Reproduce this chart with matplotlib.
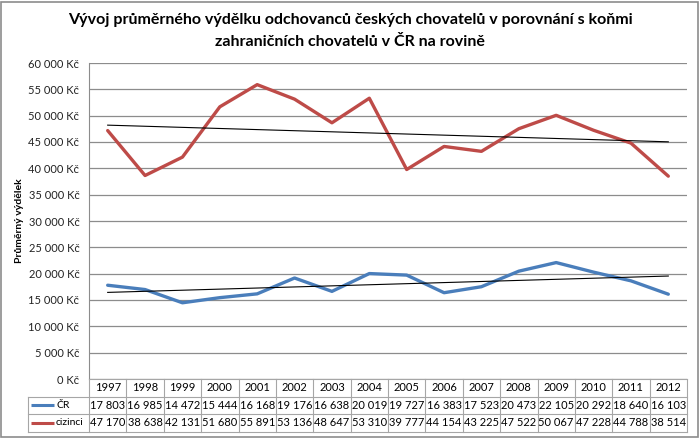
import matplotlib.pyplot as plt
import numpy as np
from matplotlib.patches import Rectangle

plt.rcParams['font.family'] = ['Lato', 'DejaVu Sans']

roky = ['1997', '1998', '1999', '2000', '2001', '2002', '2003', '2004',
        '2005', '2006', '2007', '2008', '2009', '2010', '2011', '2012']
cr = [17803, 16985, 14472, 15444, 16168, 19176, 16638, 20019,
      19727, 16383, 17523, 20473, 22105, 20292, 18640, 16103]
cizinci = [47170, 38638, 42131, 51680, 55891, 53136, 48647, 53310,
           39777, 44154, 43225, 47522, 50067, 47228, 44788, 38514]

W, H = 700, 440
fig = plt.figure(figsize=(7, 4.4), dpi=100)

# cisla s mezerou jako oddelovacem tisicu
fmt = lambda v: '{:,}'.format(int(v)).replace(',', ' ')

# ramecek kolem celeho grafu
fig.patches.append(Rectangle((1 / W, 3 / H), 697 / W, 435 / H, transform=fig.transFigure,
                             fill=False, edgecolor='#8c8c8c', linewidth=1.2))

x0, x1, ytop, y0 = 89, 687, 63, 379
ax = fig.add_axes([x0 / W, 1 - y0 / H, (x1 - x0) / W, (y0 - ytop) / H])
x = np.arange(len(roky))

ax.plot(x, cr, color='#4a7ebb', linewidth=2.4, solid_capstyle='round')
ax.plot(x, cizinci, color='#be4b48', linewidth=2.4, solid_capstyle='round')

# linearni trendy
for data in (cr, cizinci):
    k, q = np.polyfit(x, data, 1)
    ax.plot(x, k * x + q, color='black', linewidth=0.8)

ax.set_xlim(-0.5, len(roky) - 0.5)
ax.set_ylim(0, 60000)
ticks = np.arange(0, 60001, 5000)
ax.set_yticks(ticks)
ax.set_yticklabels([fmt(v) + ' Kč' for v in ticks], fontsize=8, color='#222222')
ax.yaxis.grid(True, color='#8c8c8c', linewidth=0.9)
ax.set_axisbelow(True)
ax.set_xticks([])
ax.tick_params(axis='y', length=0, pad=7)
for s in ['top', 'right', 'bottom']:
    ax.spines[s].set_visible(False)
ax.spines['left'].set_color('#8c8c8c')
ax.set_ylabel('Průměrný výdělek', fontsize=7.5, fontweight='bold')
ax.yaxis.set_label_coords(-0.118 + 6 / (x1 - x0), 0.5)

# tabulka dat pod grafem
row_h = 17.5
tab = fig.add_axes([x0 / W, 1 - (y0 + 3 * row_h) / H, (x1 - x0) / W, 3 * row_h / H])
tab.set_xlim(-0.5, len(roky) - 0.5)
tab.set_ylim(3, 0)
tab.axis('off')
lc = '#a6a6a6'
unit = (x1 - x0) / len(roky)
left = -0.5 - (x0 - 28) / unit
for r in range(4):
    xs = -0.5 if r == 0 else left
    tab.plot([xs, len(roky) - 0.5], [r, r], color=lc, linewidth=0.8, clip_on=False)
tab.plot([left, left], [1, 3], color=lc, linewidth=0.8, clip_on=False)
for c in range(len(roky) + 1):
    tab.plot([c - 0.5, c - 0.5], [0, 3], color=lc, linewidth=0.8, clip_on=False)

for i, rok in enumerate(roky):
    tab.text(i, 0.5, rok, ha='center', va='center', fontsize=8)
    tab.text(i, 1.5, fmt(cr[i]), ha='center', va='center', fontsize=8)
    tab.text(i, 2.5, fmt(cizinci[i]), ha='center', va='center', fontsize=8)

for r, (nazev, barva) in enumerate([('ČR', '#4a7ebb'), ('cizinci', '#be4b48')]):
    tab.plot([left + 3 / unit, left + 26 / unit], [r + 1.5, r + 1.5], color=barva,
             linewidth=2.2, clip_on=False, solid_capstyle='butt')
    tab.text(left + 28 / unit, r + 1.5, nazev, ha='left', va='center', fontsize=7.5)

fig.text(0.5, 1 - 20 / H, 'Vývoj průměrného výdělku odchovanců českých chovatelů v porovnání s koňmi',
         ha='center', va='center', fontsize=11.5, fontweight='bold')
fig.text(0.5, 1 - 42 / H, 'zahraničních chovatelů v ČR na rovině',
         ha='center', va='center', fontsize=11.5, fontweight='bold')

fig.savefig('out.png', dpi=100)
